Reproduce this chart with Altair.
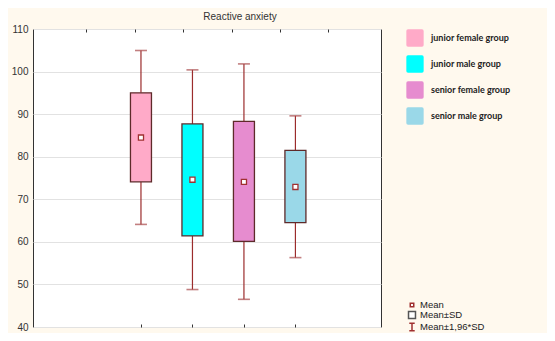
import altair as alt
import pandas as pd

groups = ["junior female group", "junior male group", "senior female group", "senior male group"]
positions = [1, 2, 3, 4]
means = [84.5, 74.6, 74.1, 72.9]
sd_low = [74.1, 61.4, 60.1, 64.5]
sd_high = [95.0, 87.7, 88.3, 81.5]
ci_low = [64.1, 48.8, 46.5, 56.3]
ci_high = [104.95, 100.4, 101.8, 89.6]
colors = ["#FFAAC8", "#00FFFF", "#E68CCF", "#9AD8E8"]

y_ticks = [40, 50, 60, 70, 80, 90, 100, 110]
top_ticks = [-0.06, 0.88, 1.82, 2.76, 3.70, 4.64]

legend_items = ["Mean", "Mean±SD", "Mean±1,96*SD"]
legend_shapes = [
    "M-0.45,-0.45H0.45V0.45H-0.45Z",
    "M-0.9,-0.9H0.9V0.9H-0.9Z",
    "M-0.7,-1H0.7M0,-1V1M-0.7,1H0.7",
]
legend_strokes = ["#A03030", "#555555", "#A03030"]

df = pd.DataFrame({
    "group": groups, "pos": positions, "mean": means,
    "sd_low": sd_low, "sd_high": sd_high, "ci_low": ci_low, "ci_high": ci_high,
})
leg_df = pd.DataFrame({"item": legend_items})

xdom = [-1.0, 5.565]
xscale = alt.Scale(domain=xdom, nice=False, zero=False)
yscale = alt.Scale(domain=[40, 110], nice=False, zero=False)

rounded = ("M-0.8,-1H0.8Q1,-1 1,-0.8V0.8Q1,1 0.8,1H-0.8Q-1,1 -1,0.8"
           "V-0.8Q-1,-1 -0.8,-1Z")

base = alt.Chart(df)

yaxis = alt.Axis(values=y_ticks, ticks=False, labelPadding=5, domain=False,
                 grid=True, gridColor="#E2E2E2", labelFontSize=10,
                 labelColor="#333333", labelFont="Liberation Sans", title=None)

bottom_axis = alt.Axis(values=positions, orient="bottom", labels=False, domain=False,
                       grid=False, tickSize=3, offset=-3, tickColor="#333333", title=None)
top_axis = alt.Axis(values=top_ticks, orient="top", labels=False, domain=False,
                    grid=False, tickSize=3, offset=-3, tickColor="#333333", title=None)

whisk_hi = base.mark_rule(color="#9B2C2C", strokeWidth=1.2).encode(
    x=alt.X("pos:Q", scale=xscale, axis=bottom_axis),
    y=alt.Y("sd_high:Q", scale=yscale, axis=yaxis),
    y2="ci_high:Q",
)
whisk_lo = base.mark_rule(color="#9B2C2C", strokeWidth=1.2).encode(
    x=alt.X("pos:Q", scale=xscale, axis=top_axis),
    y=alt.Y("ci_low:Q", scale=yscale, axis=yaxis),
    y2="sd_low:Q",
)
cap_hi = base.mark_tick(color="#A8484A", thickness=1.6, size=12, orient="horizontal").encode(
    x=alt.X("pos:Q", scale=xscale, axis=None),
    y=alt.Y("ci_high:Q", scale=yscale, axis=yaxis),
)
cap_lo = base.mark_tick(color="#A8484A", thickness=1.6, size=12, orient="horizontal").encode(
    x=alt.X("pos:Q", scale=xscale, axis=None),
    y=alt.Y("ci_low:Q", scale=yscale, axis=yaxis),
)
boxes = base.mark_bar(size=21, stroke="#5E2A2A", strokeWidth=1.3).encode(
    x=alt.X("pos:Q", scale=xscale, axis=None),
    y=alt.Y("sd_low:Q", scale=yscale, axis=yaxis),
    y2="sd_high:Q",
    color=alt.Color("group:N", scale=alt.Scale(domain=groups, range=colors),
                    legend=alt.Legend(orient="none", legendX=373, legendY=0, title=None,
                                      symbolType=rounded, symbolSize=300,
                                      symbolStrokeWidth=0, symbolOpacity=1,
                                      labelFont="Lato", labelFontWeight="bold",
                                      labelFontSize=9, labelColor="#222222",
                                      labelOffset=7, rowPadding=8)),
)
mean_pts = base.mark_square(size=26, fill="white", stroke="#A03030", strokeWidth=1.3,
                            opacity=1).encode(
    x=alt.X("pos:Q", scale=xscale, axis=None),
    y=alt.Y("mean:Q", scale=yscale, axis=yaxis),
)
leg_layer = alt.Chart(leg_df).mark_point(filled=False, fill="white", clip=True,
                                         strokeWidth=1.2, opacity=1).encode(
    x=alt.value(-200),
    y=alt.value(-200),
    shape=alt.Shape("item:N", scale=alt.Scale(domain=legend_items, range=legend_shapes),
                    legend=alt.Legend(orient="none", legendX=374, legendY=271, title=None,
                                      symbolSize=60, labelFontSize=9.5,
                                      labelFont="Liberation Sans", labelColor="#222222",
                                      labelOffset=3, rowPadding=-2, symbolFillColor="white",
                                      symbolOpacity=1, labelLimit=120)),
    stroke=alt.Stroke("item:N", scale=alt.Scale(domain=legend_items, range=legend_strokes),
                      legend=alt.Legend(orient="none", legendX=374, legendY=271, title=None)),
)

chart = alt.layer(whisk_hi, whisk_lo, cap_hi, cap_lo, boxes, mean_pts, leg_layer).resolve_axis(
    x="independent"
).properties(
    width=348, height=298,
    title=alt.TitleParams("Reactive anxiety", fontSize=10, font="Liberation Sans",
                          fontWeight="normal", color="#333333", anchor="middle",
                          dx=33, offset=2),
    padding={"left": 25, "top": 21, "right": 166, "bottom": 6},
    autosize=alt.AutoSizeParams(type="none"),
    background="#FFF9EE",
).configure_view(
    fill="white", stroke="#333333", strokeWidth=1
)

chart.save("out.html", embed_options={"renderer": "svg", "actions": False})
